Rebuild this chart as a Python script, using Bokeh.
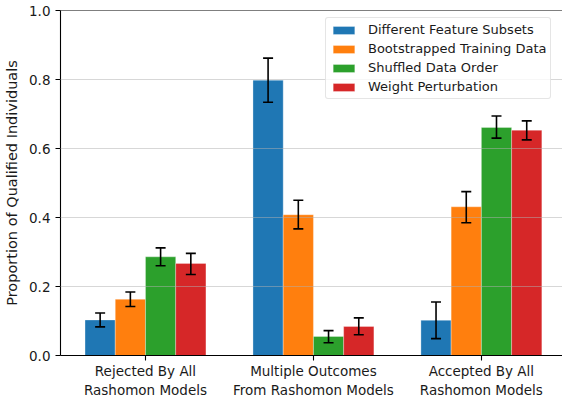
import numpy as np
from bokeh.plotting import figure
from bokeh.models import (ColumnDataSource, Whisker, TeeHead, Span, FixedTicker,
                          Legend, LegendItem, Range1d, PrintfTickFormatter)
from bokeh.embed import file_html
from bokeh.resources import INLINE

categories = ["Rejected By All\nRashomon Models",
              "Multiple Outcomes\nFrom Rashomon Models",
              "Accepted By All\nRashomon Models"]
series = ["Different Feature Subsets", "Bootstrapped Training Data",
          "Shuffled Data Order", "Weight Perturbation"]
colors = ["#1f77b4", "#ff7f0e", "#2ca02c", "#d62728"]

diff_feat = [0.103, 0.798, 0.102]
diff_feat_lo = [0.083, 0.734, 0.049]
diff_feat_hi = [0.123, 0.862, 0.155]

bootstrap = [0.163, 0.408, 0.431]
bootstrap_lo = [0.142, 0.367, 0.385]
bootstrap_hi = [0.184, 0.450, 0.475]

shuffled = [0.286, 0.055, 0.661]
shuffled_lo = [0.260, 0.037, 0.630]
shuffled_hi = [0.312, 0.072, 0.694]

weight = [0.267, 0.084, 0.653]
weight_lo = [0.235, 0.060, 0.625]
weight_hi = [0.296, 0.109, 0.680]

values = [diff_feat, bootstrap, shuffled, weight]
lows = [diff_feat_lo, bootstrap_lo, shuffled_lo, weight_lo]
highs = [diff_feat_hi, bootstrap_hi, shuffled_hi, weight_hi]

bar_w = 0.18
p = figure(width=562, height=400, output_backend="svg", toolbar_location=None,
           x_range=Range1d(-0.506, 2.483), y_range=Range1d(0, 1.0),
           min_border_left=60, min_border_right=0, min_border_top=10,
           min_border_bottom=43)
p.outline_line_color = None
p.background_fill_color = "white"
p.border_fill_color = "white"

idx = np.arange(len(categories))
items = []
for k, (name, col) in enumerate(zip(series, colors)):
    xs = idx + (k - 1.5) * bar_w
    src = ColumnDataSource(dict(x=xs, top=values[k], lo=lows[k], hi=highs[k]))
    r = p.vbar(x="x", top="top", bottom=0, width=bar_w, source=src,
               fill_color=col, line_color="white", line_alpha=0.3, line_width=1)
    w = Whisker(base="x", upper="hi", lower="lo", source=src,
                line_color="black", line_width=1.6, level="annotation",
                upper_head=TeeHead(size=10, line_color="black", line_width=1.6),
                lower_head=TeeHead(size=10, line_color="black", line_width=1.6))
    p.add_layout(w)
    items.append(LegendItem(label=name, renderers=[r]))

p.add_layout(Span(location=1.0, dimension="width", line_color="black", line_width=1.1))

# axes
p.xaxis.ticker = FixedTicker(ticks=list(idx))
p.xaxis.major_label_overrides = {int(i): c for i, c in zip(idx, categories)}
p.yaxis.ticker = FixedTicker(ticks=[0.0, 0.2, 0.4, 0.6, 0.8, 1.0])
p.yaxis.formatter = PrintfTickFormatter(format="%.1f")
p.yaxis.axis_label = "Proportion of Qualified Individuals"
for ax in (p.xaxis[0], p.yaxis[0]):
    ax.axis_line_color = "black"
    ax.axis_line_width = 1.1
    ax.major_tick_line_color = "black"
    ax.major_tick_line_width = 1.1
    ax.major_tick_out = 5
    ax.major_tick_in = 0
    ax.minor_tick_line_color = None
    ax.major_label_text_font = "DejaVu Sans"
    ax.major_label_text_font_size = "13.5px"
    ax.major_label_text_color = "#1a1a1a"
p.yaxis.major_label_standoff = 5
p.xaxis.major_label_standoff = 2
p.yaxis.axis_label_text_font = "DejaVu Sans"
p.yaxis.axis_label_text_font_size = "14.5px"
p.yaxis.axis_label_text_font_style = "normal"
p.yaxis.axis_label_text_color = "#1a1a1a"
p.yaxis.axis_label_standoff = 6

p.xgrid.grid_line_color = None
p.ygrid.ticker = FixedTicker(ticks=[0.2, 0.4, 0.6, 0.8])
p.ygrid.grid_line_color = "#b0b0b0"
p.ygrid.grid_line_alpha = 0.5
p.ygrid.grid_line_width = 1
p.ygrid.level = "annotation"

legend = Legend(items=items, location=(265, 256))
legend.label_text_font = "DejaVu Sans"
legend.label_text_font_size = "13px"
legend.label_text_color = "#1a1a1a"
legend.glyph_width = 27
legend.glyph_height = 10
legend.label_height = 15
legend.label_standoff = 11
legend.spacing = 4
legend.padding = 4
legend.margin = 0
legend.border_line_color = "#cccccc"
legend.border_line_width = 1
legend.border_radius = 3
legend.background_fill_color = "white"
legend.background_fill_alpha = 0.8
p.add_layout(legend)

open("out.html", "w").write(file_html(p, INLINE))
